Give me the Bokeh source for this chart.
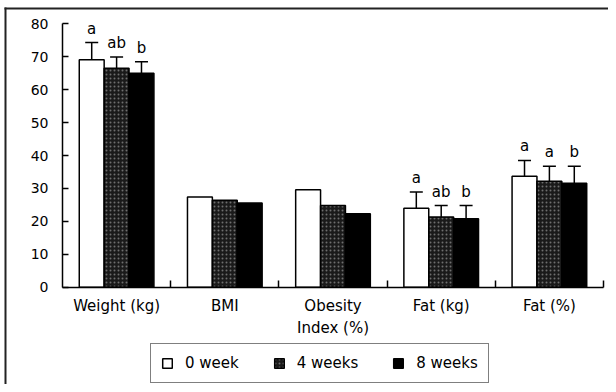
from bokeh.plotting import figure
from bokeh.models import (ColumnDataSource, Whisker, TeeHead, Legend, LegendItem,
                          FixedTicker, Range1d, BoxAnnotation)
from bokeh.core.properties import value
from bokeh.embed import file_html
from bokeh.resources import INLINE

# ---- data ----
categories = ["Weight (kg)", "BMI", "Obesity\nIndex (%)", "Fat (kg)", "Fat (%)"]
series_names = ["0 week", "4 weeks", "8 weeks"]
week0 = [69.1, 27.4, 29.6, 24.0, 33.7]
week4 = [66.5, 26.4, 24.8, 21.3, 32.2]
week8 = [65.0, 25.6, 22.3, 20.8, 31.6]
sd0 = [5.2, None, None, 4.9, 4.8]
sd4 = [3.4, None, None, 3.5, 4.5]
sd8 = [3.5, None, None, 4.0, 5.1]
letters0 = ["a", "", "", "a", "a"]
letters4 = ["ab", "", "", "ab", "a"]
letters8 = ["b", "", "", "b", "b"]
y_ticks = [0, 10, 20, 30, 40, 50, 60, 70, 80]

FONT = "DejaVu Sans"

# ---- layout (pixels) ----
W, H = 608, 384
AX_LEFT, AX_RIGHT, AX_TOP, AX_BOTTOM = 62.0, 603.0, 23.3, 286.7
Y_MAX = 80.0
n = len(categories)
px_x = (AX_RIGHT - AX_LEFT) / n
px_y = (AX_BOTTOM - AX_TOP) / Y_MAX
x_range = Range1d(-AX_LEFT / px_x, n + (W - AX_RIGHT) / px_x)
y_range = Range1d(-(H - AX_BOTTOM) / px_y, Y_MAX + AX_TOP / px_y)

p = figure(frame_width=W, frame_height=H, output_backend="svg", toolbar_location=None,
           x_range=x_range, y_range=y_range,
           min_border_left=0, min_border_right=0, min_border_top=0, min_border_bottom=0)
p.outline_line_color = None
p.xgrid.visible = False
p.ygrid.visible = False
p.background_fill_color = "white"
p.border_fill_color = "white"

# outer frame of the figure panel (left and top edges only; the rest lies outside the picture)
p.add_layout(BoxAnnotation(left=4, left_units="canvas", right=6, right_units="canvas",
                           top=7, top_units="canvas", bottom=H + 50, bottom_units="canvas",
                           fill_color="#222222", fill_alpha=1, line_color=None))
p.add_layout(BoxAnnotation(left=4, left_units="canvas", right=W + 50, right_units="canvas",
                           top=7, top_units="canvas", bottom=9, bottom_units="canvas",
                           fill_color="#222222", fill_alpha=1, line_color=None))

# y axis
p.yaxis.fixed_location = 0
p.yaxis.bounds = (0, Y_MAX)
p.yaxis.ticker = FixedTicker(ticks=y_ticks)
p.yaxis.major_tick_in = 6
p.yaxis.major_tick_out = 0
p.yaxis.minor_tick_line_color = None
p.yaxis.axis_line_width = 1.5
p.yaxis.major_tick_line_width = 1.5
p.yaxis.axis_line_color = "black"
p.yaxis.major_label_standoff = 14
p.yaxis.major_label_text_font = FONT
p.yaxis.major_label_text_font_size = "14px"
p.yaxis.major_label_text_color = "black"

# x axis: labels at group centres, boundary ticks as minor ticks
centres = [i + 0.5 for i in range(n)]
bounds = [i + 1 for i in range(n)]
p.xaxis.fixed_location = 0
p.xaxis.bounds = (0, n)
p.xaxis.ticker = FixedTicker(ticks=centres, minor_ticks=bounds)
p.xaxis.major_label_overrides = {c: lab for c, lab in zip(centres, categories)}
p.xaxis.major_tick_line_color = None
p.xaxis.major_tick_in = 0
p.xaxis.major_tick_out = 0
p.xaxis.minor_tick_in = 7
p.xaxis.minor_tick_out = 0
p.xaxis.minor_tick_line_color = "black"
p.xaxis.minor_tick_line_width = 1.5
p.xaxis.axis_line_width = 1.5
p.xaxis.axis_line_color = "black"
p.xaxis.major_label_standoff = 10
p.xaxis.major_label_text_font = FONT
p.xaxis.major_label_text_font_size = "15px"
p.xaxis.major_label_text_color = "black"

offsets = [-0.23, 0.0, 0.23]
bar_w = 0.23
styles = [dict(fill_color="white"),
          dict(fill_color="#1a1a1a", hatch_pattern="dot", hatch_color="#6e6e6e",
               hatch_scale=4, hatch_weight=1),
          dict(fill_color="black")]
vals = [week0, week4, week8]
sds = [sd0, sd4, sd8]
lets = [letters0, letters4, letters8]

renderers = []
for k in range(3):
    xs = [c + offsets[k] for c in centres]
    src = ColumnDataSource(dict(x=xs, top=vals[k]))
    r = p.vbar(x="x", top="top", bottom=0, width=bar_w, source=src,
               line_color="black", line_width=1.5, **styles[k])
    renderers.append(r)
    ex, lo, up, lt = [], [], [], []
    for i in range(n):
        if sds[k][i] is not None:
            ex.append(xs[i]); lo.append(vals[k][i]); up.append(vals[k][i] + sds[k][i])
            lt.append(lets[k][i])
    esrc = ColumnDataSource(dict(x=ex, lower=lo, upper=up, text=lt))
    w = Whisker(base="x", lower="lower", upper="upper", source=esrc,
                upper_head=TeeHead(size=13, line_width=1.5, line_color="black"),
                lower_head=None, line_width=1.5, line_color="black")
    p.add_layout(w)
    p.text(x="x", y="upper", text="text", source=esrc, text_align="center",
           text_baseline="bottom", y_offset=-5, text_font=value(FONT),
           text_font_size="15px", text_color="black")

legend = Legend(items=[LegendItem(label=s, renderers=[r]) for s, r in zip(series_names, renderers)],
                orientation="horizontal", location=(150, 1), margin=0,
                padding=10, spacing=34, label_standoff=12,
                glyph_width=12, glyph_height=12,
                label_text_font=FONT, label_text_font_size="15px",
                label_text_color="black",
                border_line_color="black", border_line_width=1.5,
                background_fill_color="white")
p.add_layout(legend, "center")

open("out.html", "w").write(file_html(p, INLINE))
